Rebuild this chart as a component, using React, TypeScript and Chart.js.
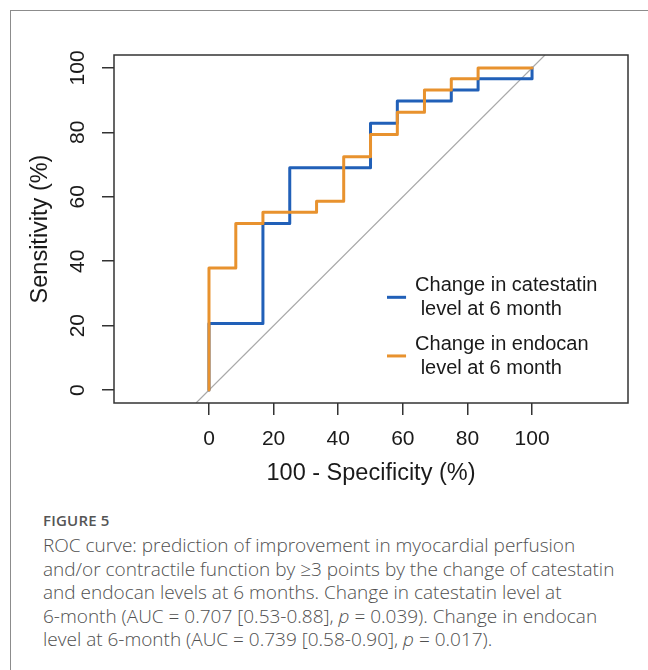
import React, { useEffect, useRef } from "react";
import { Chart, registerables } from "chart.js";

Chart.register(...registerables);

// ---- data ----
const xTickValues = [0, 20, 40, 60, 80, 100];
const yTickValues = [0, 20, 40, 60, 80, 100];

// ROC curve vertices (x = 100 - specificity, y = sensitivity)
const catestatinX = [0, 0, 16.7, 16.7, 25, 25, 50, 50, 58.3, 58.3, 75, 75, 83.3, 83.3, 100, 100];
const catestatinY = [0, 20.7, 20.7, 51.7, 51.7, 69.0, 69.0, 82.8, 82.8, 89.7, 89.7, 93.1, 93.1, 96.6, 96.6, 100];

const endocanX = [0, 0, 8.3, 8.3, 16.7, 16.7, 33.3, 33.3, 41.7, 41.7, 50, 50, 58.3, 58.3, 66.7, 66.7, 75, 75, 83.3, 83.3, 100];
const endocanY = [0, 37.9, 37.9, 51.7, 51.7, 55.2, 55.2, 58.6, 58.6, 72.4, 72.4, 79.3, 79.3, 86.2, 86.2, 93.1, 93.1, 96.6, 96.6, 100, 100];

const diagonalX = [-4, 104];
const diagonalY = [-4, 104];

const catestatinLabel = ["Change in catestatin", " level at 6 month"];
const endocanLabel = ["Change in endocan", " level at 6 month"];

const xTitle = "100 - Specificity (%)";
const yTitle = "Sensitivity (%)";

// ---- styles ----
const BLUE = "#2160b8";
const ORANGE = "#e8922e";
const FONT = '"Liberation Sans", Arial, Helvetica, sans-serif';
const INK = "#1a1a1a";

const toPoints = (xs: number[], ys: number[]) => xs.map((x, i) => ({ x, y: ys[i] }));

const boxPlugin = {
  id: "rocBox",
  afterDraw(chart: any) {
    const { ctx, chartArea } = chart;
    ctx.save();
    ctx.strokeStyle = "#333";
    ctx.lineWidth = 1.5;
    ctx.strokeRect(chartArea.left, chartArea.top, chartArea.right - chartArea.left, chartArea.bottom - chartArea.top);
    ctx.restore();
  },
};

const legendPlugin = {
  id: "rocLegend",
  afterDatasetsDraw(chart: any) {
    const { ctx } = chart;
    const xs = chart.scales.x;
    const ys = chart.scales.y;
    const entries = [
      { label: catestatinLabel, color: BLUE, yv: 28.8 },
      { label: endocanLabel, color: ORANGE, yv: 10.6 },
    ];
    ctx.save();
    ctx.font = `20px ${FONT}`;
    ctx.textBaseline = "middle";
    ctx.textAlign = "left";
    const x0 = xs.getPixelForValue(55.1);
    const x1 = xs.getPixelForValue(61);
    const xt = xs.getPixelForValue(63.8);
    entries.forEach((e) => {
      const cy = ys.getPixelForValue(e.yv);
      ctx.strokeStyle = e.color;
      ctx.lineWidth = 3;
      ctx.beginPath();
      ctx.moveTo(x0, cy);
      ctx.lineTo(x1, cy);
      ctx.stroke();
      ctx.fillStyle = INK;
      ctx.fillText(e.label[0], xt, cy - 11.5);
      ctx.fillText(e.label[1], xt, cy + 12.5);
    });
    ctx.restore();
  },
};

export default function App() {
  const canvasRef = useRef<HTMLCanvasElement>(null);

  useEffect(() => {
    const chart = new Chart(canvasRef.current as HTMLCanvasElement, {
      type: "line",
      data: {
        datasets: [
          {
            label: "Change in endocan level at 6 month",
            data: toPoints(endocanX, endocanY),
            borderColor: ORANGE,
            borderWidth: 3,
            pointRadius: 0,
            borderJoinStyle: "round",
            borderCapStyle: "round",
            tension: 0,
          },
          {
            label: "Change in catestatin level at 6 month",
            data: toPoints(catestatinX, catestatinY),
            borderColor: BLUE,
            borderWidth: 3,
            pointRadius: 0,
            borderJoinStyle: "round",
            borderCapStyle: "round",
            tension: 0,
          },
          {
            label: "reference",
            data: toPoints(diagonalX, diagonalY),
            borderColor: "#a9a9a9",
            borderWidth: 1.2,
            pointRadius: 0,
            tension: 0,
          },
        ],
      },
      options: {
        animation: false,
        responsive: true,
        maintainAspectRatio: false,
        parsing: false as any,
        layout: { padding: { left: 0, top: 55, right: 20, bottom: 0 } },
        plugins: {
          legend: { display: false },
          tooltip: { enabled: false },
        },
        scales: {
          x: {
            type: "linear",
            min: -29.4,
            max: 129.7,
            afterBuildTicks: (s: any) => {
              s.ticks = xTickValues.map((value) => ({ value }));
            },
            afterFit: (s: any) => {
              s.height = 97;
            },
            border: { display: false },
            grid: {
              drawOnChartArea: false,
              drawTicks: true,
              tickLength: 12,
              color: "#333",
              lineWidth: 1.5,
            },
            ticks: {
              padding: 12,
              color: INK,
              font: { family: FONT, size: 21 },
              maxRotation: 0,
              minRotation: 0,
            },
            title: {
              display: true,
              text: xTitle,
              color: INK,
              font: { family: FONT, size: 23.5 },
              padding: { top: 0, bottom: 12 },
            },
          },
          y: {
            type: "linear",
            min: -4,
            max: 104,
            afterBuildTicks: (s: any) => {
              s.ticks = yTickValues.map((value) => ({ value }));
            },
            afterFit: (s: any) => {
              s.width = 114;
            },
            border: { display: false },
            grid: {
              drawOnChartArea: false,
              drawTicks: true,
              tickLength: 12,
              color: "#333",
              lineWidth: 1.5,
            },
            ticks: {
              padding: 6,
              color: INK,
              font: { family: FONT, size: 21 },
              minRotation: 90,
              maxRotation: 90,
              crossAlign: "center",
            },
            title: {
              display: true,
              text: yTitle,
              color: INK,
              font: { family: FONT, size: 23.5 },
              padding: { top: 26, bottom: 0 },
            },
          },
        },
      } as any,
      plugins: [boxPlugin, legendPlugin],
    });
    return () => chart.destroy();
  }, []);

  const capFont = '"Open Sans", "Noto Sans", sans-serif';

  return (
    <div
      style={{
        position: "absolute",
        left: 0,
        top: 0,
        width: 648,
        height: 670,
        overflow: "hidden",
        background: "#fff",
      }}
    >
      <div
        style={{
          position: "absolute",
          left: 10,
          top: 10,
          width: 700,
          height: 700,
          borderLeft: "1px solid #8c8c8c",
          borderTop: "1px solid #8c8c8c",
        }}
      />
      <div style={{ position: "absolute", left: 0, top: 0, width: 648, height: 500 }}>
        <canvas ref={canvasRef} />
      </div>
      <div
        style={{
          position: "absolute",
          left: 43,
          top: 508,
          fontFamily: capFont,
          fontSize: 15,
          fontWeight: 600,
          color: "#555",
          letterSpacing: 0.2,
          lineHeight: "24px",
        }}
      >
        FIGURE 5
      </div>
      <div
        style={{
          position: "absolute",
          left: 43,
          top: 534,
          fontFamily: capFont,
          fontSize: 19,
          fontWeight: 300,
          color: "#505050",
          lineHeight: "23.5px",
          whiteSpace: "nowrap",
        }}
      >
        ROC curve: prediction of improvement in myocardial perfusion
        <br />
        and/or contractile function by ≥3 points by the change of catestatin
        <br />
        and endocan levels at 6 months. Change in catestatin level at
        <br />
        6-month (AUC = 0.707 [0.53-0.88], <i>p</i> = 0.039). Change in endocan
        <br />
        level at 6-month (AUC = 0.739 [0.58-0.90], <i>p</i> = 0.017).
      </div>
    </div>
  );
}
